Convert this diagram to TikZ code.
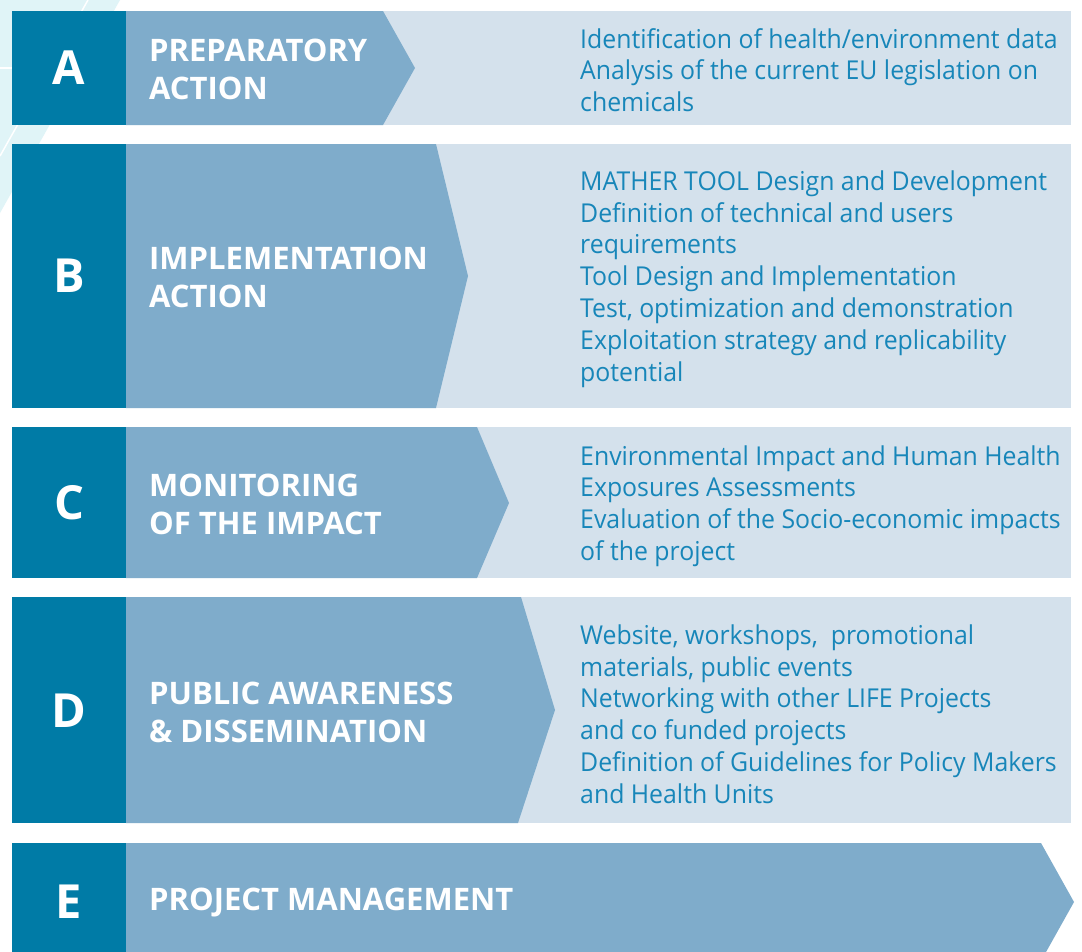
\documentclass[tikz,border=0pt]{standalone}
\usepackage{fontspec}
\setmainfont{Open Sans}[FakeStretch=0.955]
\newfontfamily\headfont{Open Sans}

\definecolor{lifeteal}{RGB}{0,123,166}
\definecolor{lifesteel}{RGB}{127,172,203}
\definecolor{lifemist}{RGB}{212,225,236}
\definecolor{lifeink}{RGB}{23,134,185}
\definecolor{lifewash}{RGB}{224,244,247}

\tikzset{
  letter/.style={text=white, inner sep=0pt, font=\headfont\fontsize{47}{50}\selectfont\bfseries},
  heading/.style={text=white, anchor=west, align=left, inner sep=0pt, font=\headfont\fontsize{31}{38}\selectfont\bfseries},
  items/.style={text=lifeink, anchor=west, align=left, inner sep=0pt, font=\fontsize{26}{31.8}\selectfont},
}

\begin{document}
\begin{tikzpicture}[x=1pt, y=-1pt]
\clip (0,0) rectangle (1082,951);
\fill[white] (0,0) rectangle (1082,951);
% washed corner behind the first rows
\fill[lifewash] (0,0) -- (120,0) -- (0,213) -- cycle;
\draw[white, line width=1.5pt] (88,0) -- (0,156);
\draw[white, line width=1.5pt] (0,68) -- (12,68);

% A
\fill[lifemist] (126,11) rectangle (1071,125);
\fill[lifesteel] (126,11) -- (383,11) -- (415,68) -- (383,125) -- (126,125) -- cycle;
\fill[lifeteal] (12,11) rectangle (126,125);
\node[letter] (letA) at (69,68) {A};
\node[heading] (headA) at (149,69) {PREPARATORY\\ACTION};
\node[items] (itemsA) at (580,70) {Identification of health/environment data\\Analysis of the current EU legislation on\\chemicals};

% B
\fill[lifemist] (126,144) rectangle (1071,408);
\fill[lifesteel] (126,144) -- (436,144) -- (468,276) -- (436,408) -- (126,408) -- cycle;
\fill[lifeteal] (12,144) rectangle (126,408);
\node[letter] (letB) at (69,276) {B};
\node[heading] (headB) at (149,277) {IMPLEMENTATION\\ACTION};
\node[items] (itemsB) at (580,279) {MATHER TOOL Design and Development\\Definition of technical and users\\requirements\\Tool Design and Implementation\\Test, optimization and demonstration\\Exploitation strategy and replicability\\potential};

% C
\fill[lifemist] (126,427) rectangle (1071,578);
\fill[lifesteel] (126,427) -- (477,427) -- (509,503) -- (477,578) -- (126,578) -- cycle;
\fill[lifeteal] (12,427) rectangle (126,578);
\node[letter] (letC) at (69,503) {C};
\node[heading] (headC) at (149,504) {MONITORING\\OF THE IMPACT};
\node[items] (itemsC) at (580,506) {Environmental Impact and Human Health\\Exposures Assessments\\Evaluation of the Socio-economic impacts\\of the project};

% D
\fill[lifemist] (126,597) rectangle (1071,823);
\fill[lifesteel] (126,597) -- (521,597) -- (555,710) -- (518,823) -- (126,823) -- cycle;
\fill[lifeteal] (12,597) rectangle (126,823);
\node[letter] (letD) at (69,711) {D};
\node[heading] (headD) at (149,712) {PUBLIC AWARENESS\\\& DISSEMINATION};
\node[items] (itemsD) at (580,714) {Website, workshops,\ \ promotional\\materials, public events\\Networking with other LIFE Projects\\and co funded projects\\Definition of Guidelines for Policy Makers\\and Health Units};

% E
\fill[lifesteel] (126,843) -- (1041,843) -- (1074,902) -- (1041,961) -- (126,961) -- cycle;
\fill[lifeteal] (12,843) rectangle (126,961);
\node[letter] (letE) at (69,902) {E};
\node[heading] (headE) at (149,903) {PROJECT MANAGEMENT};
\end{tikzpicture}
\end{document}
